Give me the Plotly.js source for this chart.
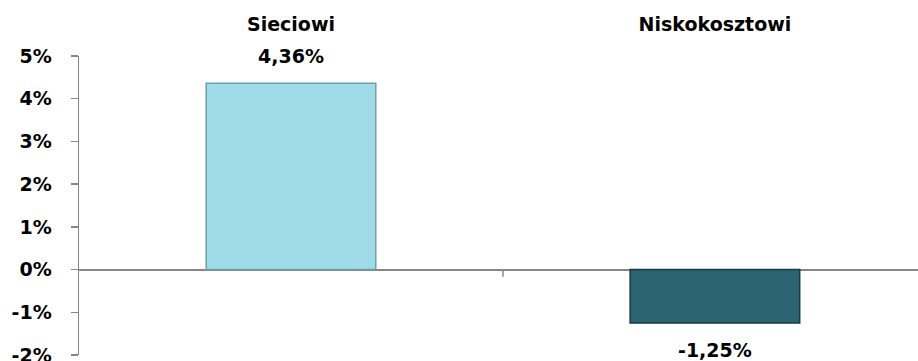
<!DOCTYPE html>
<html>
<head>
<meta charset="utf-8">
<script src="https://cdn.plot.ly/plotly-3.0.1.min.js"></script>
<style>html,body{margin:0;padding:0;background:#fff;}#chart{width:918px;height:361px;}</style>
</head>
<body>
<div id="chart"></div>
<script>
const categories = ["Sieciowi", "Niskokosztowi"];
const values = [4.36, -1.25];
const barColors = ["#a0dbea", "#2a6473"];
const barEdges = ["#6f9faa", "#163a43"];
const yTickVals = [-2, -1, 0, 1, 2, 3, 4, 5];
const yTickText = ["-2%", "-1%", "0%", "1%", "2%", "3%", "4%", "5%"];

const fontFam = "'DejaVu Sans', sans-serif";
const fsize = 19;

const trace = {
  type: "bar",
  x: categories,
  y: values,
  width: 0.4,
  marker: { color: barColors, line: { color: barEdges, width: 1.5 } },
  hoverinfo: "none"
};

const annotations = values.map((v, i) => ({
  x: categories[i], y: v, xref: "x", yref: "y",
  text: "<b>" + v.toFixed(2).replace(".", ",") + "%</b>",
  showarrow: false,
  yshift: v >= 0 ? 27 : -27,
  font: { family: fontFam, size: fsize, color: "#000" }
}));

const layout = {
  width: 918, height: 361,
  margin: { l: 79, r: 0, t: 56, b: 6 },
  paper_bgcolor: "#fff", plot_bgcolor: "#fff",
  showlegend: false,
  xaxis: {
    type: "category",
    range: [-0.5, 1.479],
    side: "top",
    showline: false, showgrid: false, zeroline: false,
    ticks: "",
    ticklabelstandoff: 20,
    tickfont: { family: fontFam, size: fsize, color: "#000", weight: "bold" }
  },
  yaxis: {
    range: [-2, 5],
    tickvals: yTickVals, ticktext: yTickText,
    showgrid: false,
    showline: true, linecolor: "#868686", linewidth: 1.5,
    ticks: "outside", ticklen: 7, tickcolor: "#868686", tickwidth: 1.5,
    zeroline: true, zerolinecolor: "#868686", zerolinewidth: 2,
    ticklabelstandoff: 15,
    ticklabeloverflow: "allow",
    tickfont: { family: fontFam, size: fsize, color: "#000", weight: "bold" }
  },
  shapes: [{
    type: "line", xref: "x", yref: "y",
    x0: 0.5, x1: 0.5, y0: 0, y1: -0.17,
    line: { color: "#868686", width: 1.5 }
  }],
  annotations: annotations
};

Plotly.newPlot("chart", [trace], layout, { displayModeBar: false, staticPlot: true });
</script>
</body>
</html>
